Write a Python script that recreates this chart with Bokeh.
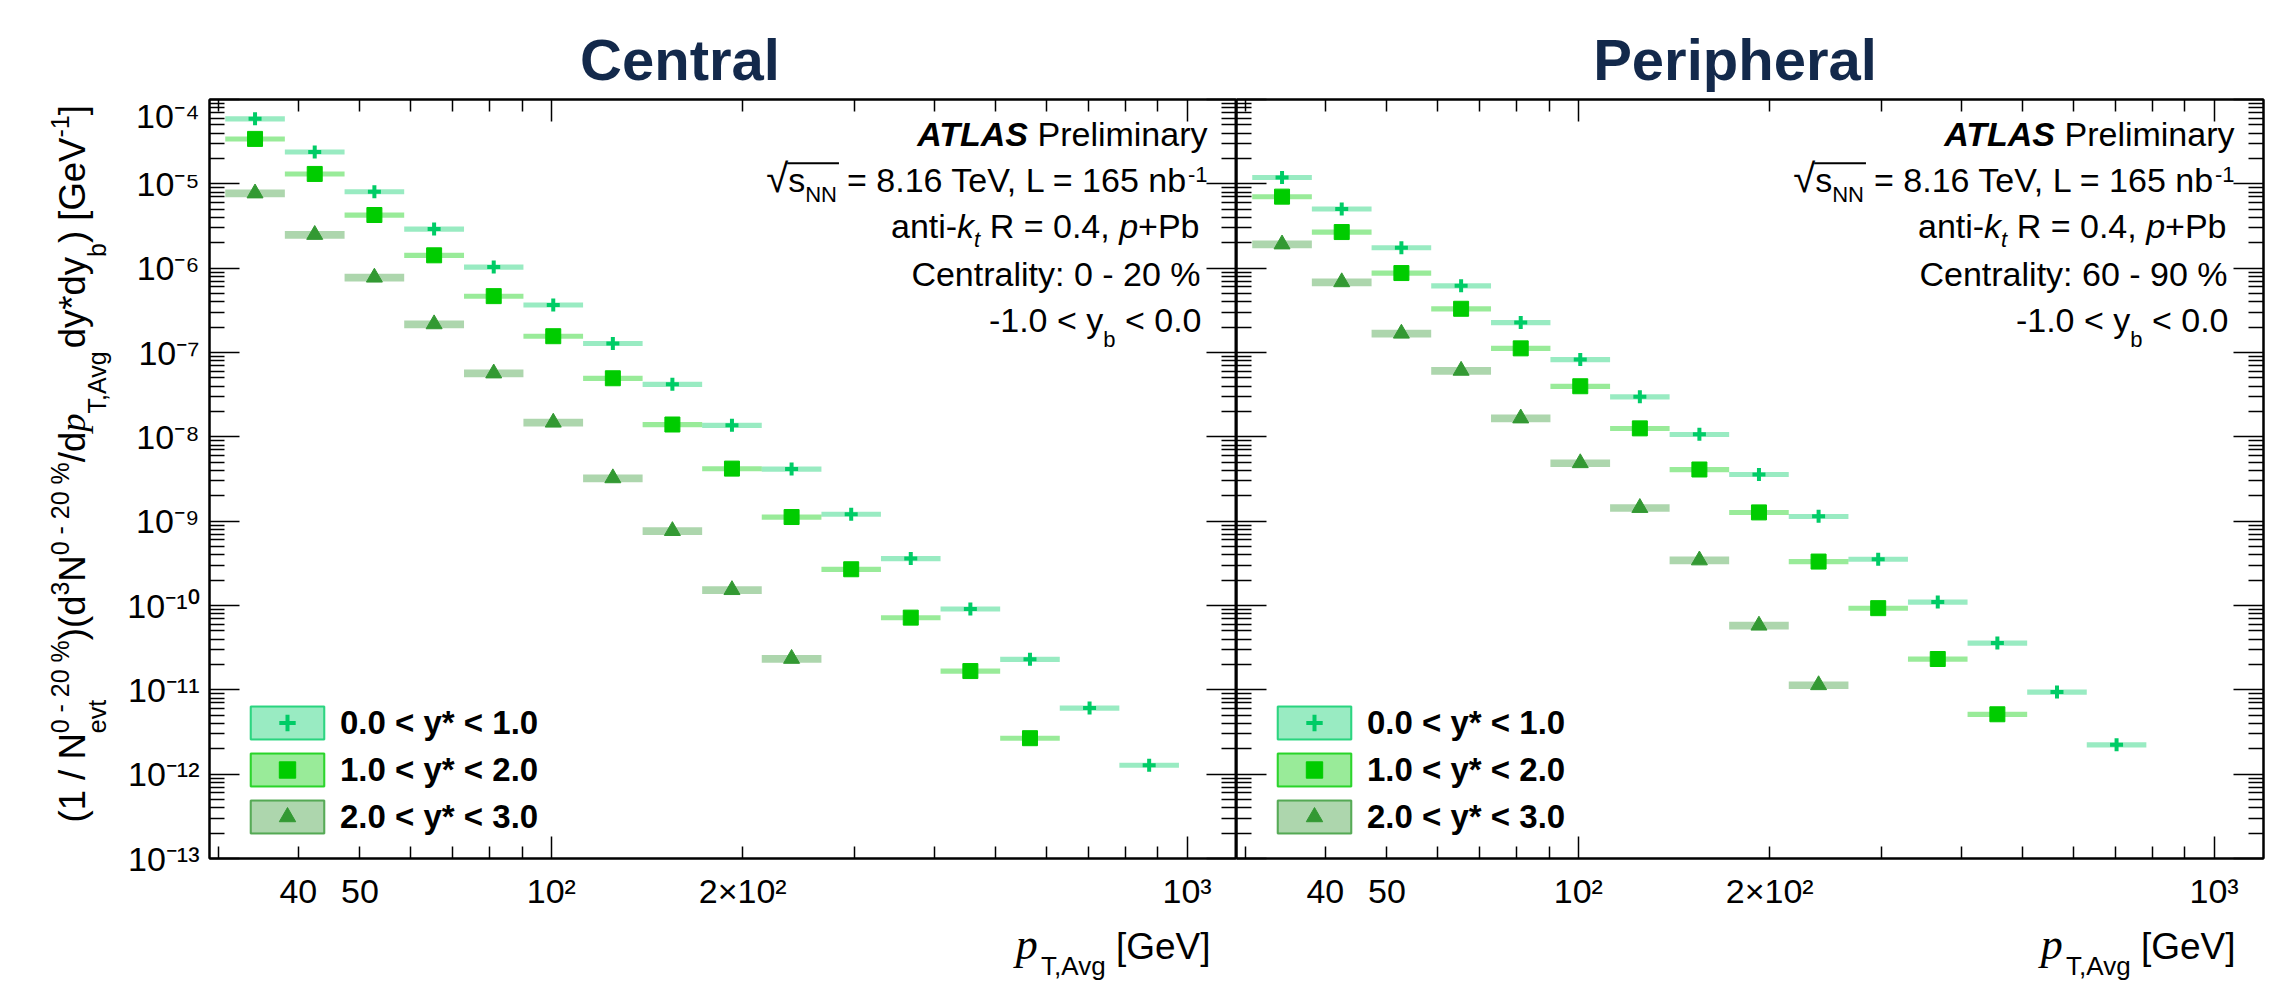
import math
import numpy as np
from bokeh.plotting import figure
from bokeh.layouts import row, column
from bokeh.models import (Range1d, FixedTicker, LogAxis, Label, Legend, LegendItem,
                          BoxAnnotation, CustomJSTickFormatter)
from bokeh.embed import file_html
from bokeh.resources import INLINE

# ---------------- data ----------------
BIN_EDGES = [30.7, 38.1, 47.3, 58.7, 72.9, 90.4, 112.2, 139.2, 172.7, 214.3,
             266.0, 330.0, 409.5, 508.2, 630.6, 782.5, 971.0]
SERIES_LABELS = ["0.0 < y* < 1.0", "1.0 < y* < 2.0", "2.0 < y* < 3.0"]

CENTRAL_Y0 = [5.9e-5, 2.39e-5, 8.07e-6, 2.91e-6, 1.03e-6, 3.67e-7, 1.28e-7, 4.2e-8,
              1.37e-8, 4.15e-9, 1.21e-9, 3.6e-10, 9.1e-11, 2.3e-11, 6.08e-12, 1.28e-12]
CENTRAL_Y1 = [3.41e-5, 1.31e-5, 4.27e-6, 1.42e-6, 4.66e-7, 1.56e-7, 4.95e-8, 1.40e-8,
              4.2e-9, 1.12e-9, 2.69e-10, 7.18e-11, 1.67e-11, 2.67e-12]
CENTRAL_Y2 = [7.73e-6, 2.49e-6, 7.76e-7, 2.17e-7, 5.67e-8, 1.48e-8, 3.24e-9, 7.67e-10,
              1.53e-10, 2.34e-11]
PERIPH_Y0 = [1.19e-5, 5.04e-6, 1.75e-6, 6.18e-7, 2.27e-7, 8.24e-8, 2.99e-8, 1.07e-8,
             3.58e-9, 1.14e-9, 3.54e-10, 1.1e-10, 3.59e-11, 9.41e-12, 2.23e-12]
PERIPH_Y1 = [7.05e-6, 2.68e-6, 8.75e-7, 3.3e-7, 1.12e-7, 3.98e-8, 1.26e-8, 4.1e-9,
             1.27e-9, 3.32e-10, 9.3e-11, 2.32e-11, 5.13e-12]
PERIPH_Y2 = [1.92e-6, 6.84e-7, 1.68e-7, 6.1e-8, 1.66e-8, 4.89e-9, 1.44e-9, 3.44e-10,
             5.8e-11, 1.14e-11]
SYST_REL = [0.07, 0.07, 0.105]

X_MAJOR_TICKS = [100, 1000]
X_MINOR_TICKS = [30, 40, 50, 60, 70, 80, 90, 200, 300, 400, 500, 600, 700, 800, 900]
X_LABEL_TICKS = [40, 50, 100, 200, 1000]
X_LABEL_TEXT = ["40", "50", "10\u00b2", "2\u00d710\u00b2", "10\u00b3"]
Y_DECADES = list(range(-13, -3))
SUP = {"0": "\u2070", "1": "\u00b9", "2": "\u00b2", "3": "\u00b3", "4": "\u2074",
       "5": "\u2075", "6": "\u2076", "7": "\u2077", "8": "\u2078", "9": "\u2079"}
Y_LABEL_TEXT = ["10\u207b" + "".join(SUP[c] for c in str(-d)) for d in Y_DECADES]

PANEL_TITLES = ["Central", "Peripheral"]
CENTRALITY = ["Centrality: 0 - 20 %", "Centrality: 60 - 90 %"]

# ---------------- style / layout ----------------
COLORS = ["#00cc66", "#00cc00", "#339933"]
MARKERS = ["cross", "square", "triangle"]
MSIZE = [13, 15, 16]
TITLE_COLOR = "#13294b"
SANS = "Liberation Sans"
SERIF = "Liberation Serif"
MID = 0.35   # Bokeh centres text boxes: baseline sits MID*size below the anchor

TOTAL_W = 2288
TOP_H = 96           # strip with panel titles (page y 0 .. 96)
MAIN_H = 818         # page y 96 .. 914
BOT_H = 68           # strip with x-axis titles (page y 914 .. 982)
YL_W = 115           # strip with the y-axis title
FRAME_W = 1027
FRAME_H = 759
MB_TOP = 99 - TOP_H
MB_BOT = MAIN_H - MB_TOP - FRAME_H
LEFT_W = 1236 - YL_W
RIGHT_W = TOTAL_W - 1236

_W = dict(zip("abcdefghijklmnopqrstuvwxyz",
              [556, 556, 500, 556, 556, 278, 556, 556, 222, 222, 500, 222, 833, 556, 556,
               556, 556, 333, 500, 278, 556, 500, 722, 500, 500, 500]))
_W.update(dict(zip("ABCDEFGHIJKLMNOPQRSTUVWXYZ",
                   [667, 667, 722, 722, 667, 611, 778, 722, 278, 500, 667, 556, 833, 722, 778,
                    667, 778, 722, 667, 611, 722, 667, 944, 667, 667, 611])))
_W.update({c: 556 for c in "0123456789"})
_W.update({' ': 278, '!': 278, '%': 889, '(': 333, ')': 333, '*': 389, '+': 584, ',': 278,
           '-': 333, '.': 278, '/': 278, ':': 278, '<': 584, '=': 584, '>': 584, '[': 278,
           ']': 278, '\u00d7': 584, '\u2212': 584, '\u221a': 549})
_WB = {'A': 722, 'T': 611, 'L': 611, 'S': 667, ' ': 278}
_KERN = {"Te": -74, "V,": -111, "AT": -74}


def tw(t, size, font=SANS, style="normal"):
    if font == SERIF:
        return 500 * len(t) * size / 1000.0
    tbl = _WB if "bold" in style else {}
    w = sum(tbl.get(c, _W.get(c, 556)) for c in t)
    w += sum(_KERN.get(t[i:i + 2], 0) for i in range(len(t) - 1))
    return w * size / 1000.0


def add_text(p, text, x, y, size, font=SANS, style="normal", angle=0.0, align="left",
             color="black", units="screen"):
    """(x, y) is a point on the text baseline.  units='screen': y up;
    units='data' on the strips: page pixels, y down; angle != 0: rotated upward."""
    if angle:
        x = x - MID * size
    elif units == "screen":
        y = y + MID * size
    else:
        y = y - MID * size
    p.add_layout(Label(x=x, y=y, x_units=units, y_units=units, text=text,
                       text_font=font, text_font_size=f"{size}px", text_font_style=style,
                       text_align=align, text_baseline="middle", angle=angle,
                       text_color=color))


def hline(p, pieces, x_right, base, sign=1, units="screen"):
    """Row of text pieces whose right end is x_right; pieces are chained from the right."""
    widths = [tw(t, s, f, st) for (t, s, f, st, dy) in pieces]
    starts = []
    xr = x_right
    for (t, s, f, st, dy), w in zip(reversed(pieces), reversed(widths)):
        trail = len(t) - len(t.rstrip(' '))
        add_text(p, t.strip(' '), xr - trail * 0.278 * s, base + sign * dy, s, f, st,
                 align="right", units=units)
        xr -= w
        starts.append(xr)
    starts = starts[::-1] + [x_right]
    return starts


def text_strip(width, height, y_top, y_bottom):
    p = figure(width=width, height=height, x_range=Range1d(0, width),
               y_range=Range1d(y_bottom, y_top), x_axis_location=None,
               y_axis_location=None, output_backend="svg", toolbar_location=None,
               min_border=0, title=None)
    p.xgrid.visible = False
    p.ygrid.visible = False
    p.outline_line_color = None
    p.background_fill_color = "white"
    p.border_fill_color = "white"
    return p


def style_axis(ax, ticker, major_in, minor_in):
    ax.ticker = ticker
    ax.formatter = CustomJSTickFormatter(code="return ''")
    ax.major_label_text_font_size = "0px"
    ax.major_label_standoff = 0
    ax.major_tick_in = major_in
    ax.major_tick_out = 0
    ax.minor_tick_in = minor_in
    ax.minor_tick_out = 0
    ax.major_tick_line_color = "black"
    ax.minor_tick_line_color = "black"
    ax.major_tick_line_width = 1.5
    ax.minor_tick_line_width = 1.5
    ax.axis_line_color = "black"
    ax.axis_line_width = 2


def make_panel(idx, width, mbl, mbr, series):
    p = figure(width=width, height=MAIN_H, x_axis_type="log", y_axis_type="log",
               x_range=Range1d(29, 1196), y_range=Range1d(1e-13, 1e-4),
               output_backend="svg", toolbar_location=None, title=None,
               min_border_left=mbl, min_border_right=mbr,
               min_border_top=MB_TOP, min_border_bottom=MB_BOT)
    p.xgrid.visible = False
    p.ygrid.visible = False
    p.outline_line_color = "black"
    p.outline_line_width = 2
    p.background_fill_color = "white"
    p.border_fill_color = "white"

    p.add_layout(LogAxis(), "above")
    p.add_layout(LogAxis(), "right")
    y_ticker = FixedTicker(ticks=[10.0 ** d for d in Y_DECADES],
                           minor_ticks=[k * 10.0 ** d for d in Y_DECADES[:-1] for k in range(2, 10)])
    x_ticker = FixedTicker(ticks=X_MAJOR_TICKS, minor_ticks=X_MINOR_TICKS)
    for ax in p.xaxis:
        style_axis(ax, x_ticker, 22, 12)
    for ax in p.yaxis:
        style_axis(ax, y_ticker, 30, 15)

    if idx == 0:
        yax = p.yaxis[0]
        yax.formatter = CustomJSTickFormatter(code="return tick.toExponential()")
        yax.major_label_overrides = {10.0 ** d: lab for d, lab in zip(Y_DECADES, Y_LABEL_TEXT)}
        yax.major_label_text_font = SANS
        yax.major_label_text_font_size = "34px"
        yax.major_label_text_color = "black"
        yax.major_label_standoff = 10

    lab_ax = LogAxis(ticker=FixedTicker(ticks=X_LABEL_TICKS, minor_ticks=[]))
    lab_ax.major_label_overrides = {v: t for v, t in zip(X_LABEL_TICKS, X_LABEL_TEXT)}
    lab_ax.axis_line_color = None
    lab_ax.major_tick_line_color = None
    lab_ax.minor_tick_line_color = None
    lab_ax.major_tick_in = 0
    lab_ax.major_tick_out = 0
    lab_ax.minor_tick_in = 0
    lab_ax.minor_tick_out = 0
    lab_ax.major_label_text_font = SANS
    lab_ax.major_label_text_font_size = "34px"
    lab_ax.major_label_text_color = "black"
    lab_ax.major_label_standoff = 13
    p.add_layout(lab_ax, "below")

    edges = np.array(BIN_EDGES)
    legend_items = []
    for i, vals in enumerate(series):
        v = np.array(vals)
        n = len(v)
        lo, hi = edges[:n], edges[1:n + 1]
        cx = np.sqrt(lo * hi)
        s = SYST_REL[i]
        c = COLORS[i]
        p.quad(left=lo, right=hi, bottom=v * (1 - s), top=v * (1 + s),
               fill_color=c, fill_alpha=0.4, line_color=None)
        if MARKERS[i] == "cross":
            mr = p.scatter(cx, v, marker="cross", size=MSIZE[i], line_color=c, line_width=4)
        else:
            mr = p.scatter(cx, v, marker=MARKERS[i], size=MSIZE[i], fill_color=c,
                           line_color=c, line_width=1)
        dummy = p.quad(left=[np.nan], right=[np.nan], bottom=[np.nan], top=[np.nan],
                       fill_color=c, fill_alpha=0.4, line_color=c, line_width=2, line_alpha=0.8)
        legend_items.append(LegendItem(label=SERIES_LABELS[i], renderers=[dummy, mr]))

    leg = Legend(items=legend_items, location=(32, 21), glyph_width=92, glyph_height=41,
                 spacing=6, label_standoff=7, padding=0, margin=0,
                 border_line_alpha=0, background_fill_alpha=0,
                 label_text_font=SANS, label_text_font_style="bold",
                 label_text_font_size="33px", label_text_color="black", label_height=41)
    p.add_layout(leg)

    # annotation block, frame-relative screen units (page baselines 145.7 ... 331.7)
    FB = 858
    A = 34
    S = 22
    hline(p, [("ATLAS", A, SANS, "bold italic", 0), (" Preliminary", A, SANS, "normal", 0)],
          FRAME_W - 29, FB - 145.7)
    st = hline(p, [("\u221a", 40, SANS, "normal", 0), ("s", A, SANS, "normal", 0),
                   ("NN", S, SANS, "normal", -10),
                   (" = 8.16 TeV, L = 165 nb", A, SANS, "normal", 0),
                   ("-1", S, SANS, "normal", 10)],
               FRAME_W - 29, FB - 191.7)
    ov_y = FB - 191.7 + 28
    p.add_layout(BoxAnnotation(left=st[1] - 1, right=st[3] + 2, bottom=ov_y, top=ov_y + 2,
                               left_units="screen", right_units="screen",
                               bottom_units="screen", top_units="screen",
                               fill_color="black", fill_alpha=1, line_color=None))
    hline(p, [("anti-", A, SANS, "normal", 0), ("k", A, SANS, "italic", 0),
              ("t", S, SANS, "italic", -10), (" R = 0.4, ", A, SANS, "normal", 0),
              ("p", A, SANS, "italic", 0), ("+Pb", A, SANS, "normal", 0)],
          FRAME_W - 37, FB - 237)
    hline(p, [(CENTRALITY[idx], A, SANS, "normal", 0)], FRAME_W - 36, FB - 285)
    hline(p, [("-1.0 < y", A, SANS, "normal", 0), ("b", S, SANS, "normal", -15),
              (" < 0.0", A, SANS, "normal", 0)], FRAME_W - 35, FB - 331.7)
    return p


left = make_panel(0, LEFT_W, 1236 - 1027 - YL_W, 0, [CENTRAL_Y0, CENTRAL_Y1, CENTRAL_Y2])
right = make_panel(1, RIGHT_W, 0, RIGHT_W - FRAME_W, [PERIPH_Y0, PERIPH_Y1, PERIPH_Y2])

# ---- top strip: panel titles (page coordinates) ----
top = text_strip(TOTAL_W, TOP_H, 0, TOP_H)
add_text(top, PANEL_TITLES[0], 679.5, 79, 58, SANS, "bold", align="center",
         color=TITLE_COLOR, units="data")
add_text(top, PANEL_TITLES[1], 1734.5, 79, 58, SANS, "bold", align="center",
         color=TITLE_COLOR, units="data")

# ---- left strip: composed y-axis title, rotated.  Its frame is aligned with the
# neighbouring plot frames (page y 99 .. 858), so map that span to page pixels.
ylab = text_strip(YL_W, MAIN_H, 99, 858)
M, Ssz = 36.5, 25
X_MAIN, X_SUP, X_SUB = 85, 68, 105
YL = [
    [("(1 / N", M, SANS, "normal", X_MAIN)],
    [("0 - 20 %", Ssz, SANS, "normal", X_SUP), ("evt", Ssz, SANS, "normal", X_SUB)],
    [(")(d", M, SANS, "normal", X_MAIN)],
    [("3", Ssz, SANS, "normal", X_SUP)],
    [("N", M, SANS, "normal", X_MAIN)],
    [("0 - 20 %", Ssz, SANS, "normal", X_SUP)],
    [("/d", M, SANS, "normal", X_MAIN)],
    [("p", M, SERIF, "italic", X_MAIN)],
    [("T,Avg", Ssz, SANS, "normal", X_SUB)],
    [("dy*dy", M, SANS, "normal", X_MAIN)],
    [("b", Ssz, SANS, "normal", X_SUB)],
    [(") [GeV", M, SANS, "normal", X_MAIN)],
    [("-1", Ssz, SANS, "normal", X_SUP)],
    [("]", M, SANS, "normal", X_MAIN)],
]
yy = 822.0
for group in YL:
    adv = 0.0
    for (t, s, f, st_, xx) in group:
        lead = len(t) - len(t.lstrip(' '))
        add_text(ylab, t.strip(' '), xx, yy - lead * 0.278 * s, s, f, st_,
                 angle=math.pi / 2, units="data")
        adv = max(adv, tw(t, s, f, st_))
    yy -= adv

# ---- bottom strip: x-axis titles (page coordinates) ----
bot = text_strip(TOTAL_W, BOT_H, TOP_H + MAIN_H, TOP_H + MAIN_H + BOT_H)
for xr in (1210, 2235):
    hline(bot, [("p", 44, SERIF, "italic", 0), ("T,Avg", 26, SANS, "normal", -16),
                (" [GeV]", 37, SANS, "normal", 0)], xr, 959, sign=-1, units="data")

layout = column(top, row(ylab, left, right), bot)
open("out.html", "w").write(file_html(layout, INLINE))
